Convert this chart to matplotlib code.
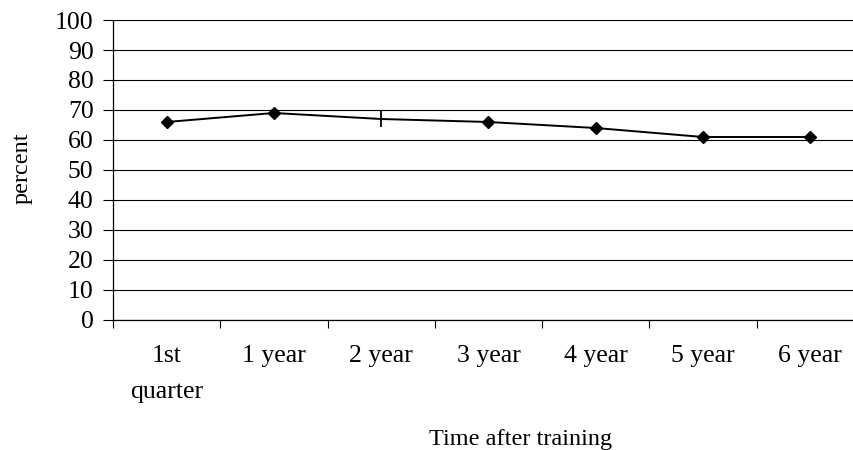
import matplotlib.pyplot as plt
import numpy as np

categories = ['1st\nquarter', '1 year', '2 year', '3 year', '4 year', '5 year', '6 year']
percent = [66, 69, 67, 66, 64, 61, 61]
yticks = list(range(0, 101, 10))

plt.rcParams['font.family'] = ['Liberation Serif', 'DejaVu Serif']

fig = plt.figure(figsize=(8.54, 4.5), dpi=100)
ax = fig.add_axes([113 / 854, 1 - 320 / 450, 751 / 854, 300 / 450])

x = np.arange(len(categories))
ax.plot(x, percent, color='black', lw=1.4, zorder=3)
# diamonds everywhere except the 2 year point, which gets a tick mark
diamonds = [i for i in range(len(x)) if i != 2]
ax.plot(x, percent, ls='none', marker='D', ms=6.5, color='black',
        markevery=diamonds, zorder=4)
ax.plot(x[2], percent[2], ls='none', marker='|', ms=11, mew=1.3,
        color='black', zorder=4)

ax.set_xlim(-0.5, len(categories) - 0.5)
ax.set_ylim(0, 100)
ax.set_yticks(yticks)
ax.yaxis.grid(True, color='black', lw=0.8)
ax.set_axisbelow(True)

ax.set_xticks(x)
ax.set_xticklabels(categories, linespacing=1.85)
ax.set_xticks(np.arange(len(categories) + 1) - 0.5, minor=True)
ax.tick_params(axis='x', which='major', length=0, pad=18, labelsize=18.5)
ax.tick_params(axis='x', which='minor', length=6, width=0.8, direction='out')
ax.tick_params(axis='y', length=7, width=0.8, pad=7, labelsize=18.5)

for side in ['top', 'right']:
    ax.spines[side].set_visible(False)
for side in ['left', 'bottom']:
    ax.spines[side].set_linewidth(0.9)

ax.set_ylabel('percent', fontsize=17.5, va='center')
ax.yaxis.set_label_coords(-0.121, 0.505)
ax.set_xlabel('Time after training', fontsize=17.5, va='center')
ax.xaxis.set_label_coords(0.5426, -0.4)

fig.savefig('out.png', dpi=100)
